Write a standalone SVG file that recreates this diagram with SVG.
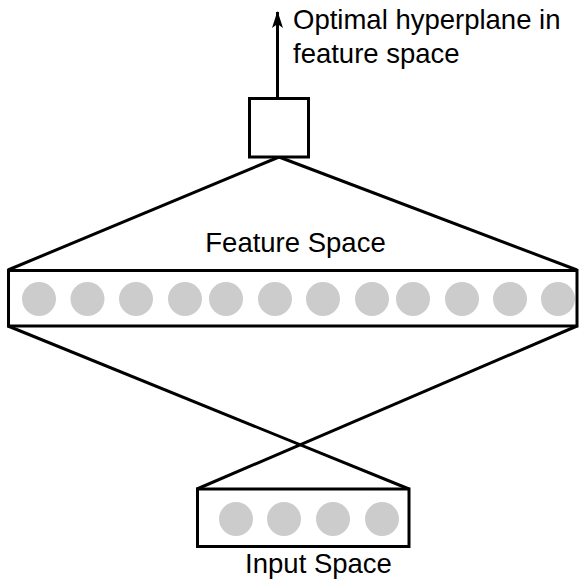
<svg xmlns="http://www.w3.org/2000/svg" width="580" height="581" viewBox="0 0 580 581">
<style>
.box{fill:#fff;stroke:#000;stroke-width:3}
.unit{fill:#cccccc}
.ln{stroke:#000;stroke-width:3;fill:none}
text{font-family:"Liberation Sans",Arial,sans-serif;font-size:27.5px;fill:#000}
</style>
<defs>
<marker id="ah" markerWidth="17" markerHeight="12" refX="16" refY="6" orient="auto" markerUnits="userSpaceOnUse" viewBox="0 0 17 12">
<path d="M0,0.5 L17,6 L0,11.5 L4,6 Z" fill="#000"/>
</marker>
</defs>
<g id="connectors">
<line class="ln" x1="279" y1="157" x2="8" y2="270"/>
<line class="ln" x1="279" y1="157" x2="577" y2="270"/>
<line class="ln" x1="8" y1="326" x2="409" y2="489"/>
<line class="ln" x1="577" y1="326" x2="197" y2="489"/>
<line class="ln" x1="277.5" y1="98" x2="277.5" y2="12" marker-end="url(#ah)"/>
</g>
<g id="output-node">
<rect class="box" x="249.5" y="98.5" width="59" height="58.5"/>
</g>
<g id="output-label">
<text x="293" y="29">Optimal hyperplane in</text>
<text x="293" y="63">feature space</text>
</g>
<g id="feature-space">
<rect class="box" x="8.5" y="270.5" width="568.5" height="55.5"/>
<circle class="unit" cx="39" cy="299" r="17"/>
<circle class="unit" cx="87.5" cy="299" r="17"/>
<circle class="unit" cx="136" cy="299" r="17"/>
<circle class="unit" cx="185" cy="299" r="17"/>
<circle class="unit" cx="226" cy="299" r="17"/>
<circle class="unit" cx="275" cy="299" r="17"/>
<circle class="unit" cx="323" cy="299" r="17"/>
<circle class="unit" cx="372" cy="299" r="17"/>
<circle class="unit" cx="413" cy="299" r="17"/>
<circle class="unit" cx="462" cy="299" r="17"/>
<circle class="unit" cx="510" cy="299" r="17"/>
<circle class="unit" cx="558" cy="299" r="17"/>
<text x="295.5" y="252" text-anchor="middle">Feature Space</text>
</g>
<g id="input-space">
<rect class="box" x="197.5" y="489" width="211.5" height="57.5"/>
<circle class="unit" cx="236" cy="519" r="17"/>
<circle class="unit" cx="284" cy="519" r="17"/>
<circle class="unit" cx="333" cy="519" r="17"/>
<circle class="unit" cx="382" cy="519" r="17"/>
<text x="318.5" y="573" text-anchor="middle">Input Space</text>
</g>
</svg>
